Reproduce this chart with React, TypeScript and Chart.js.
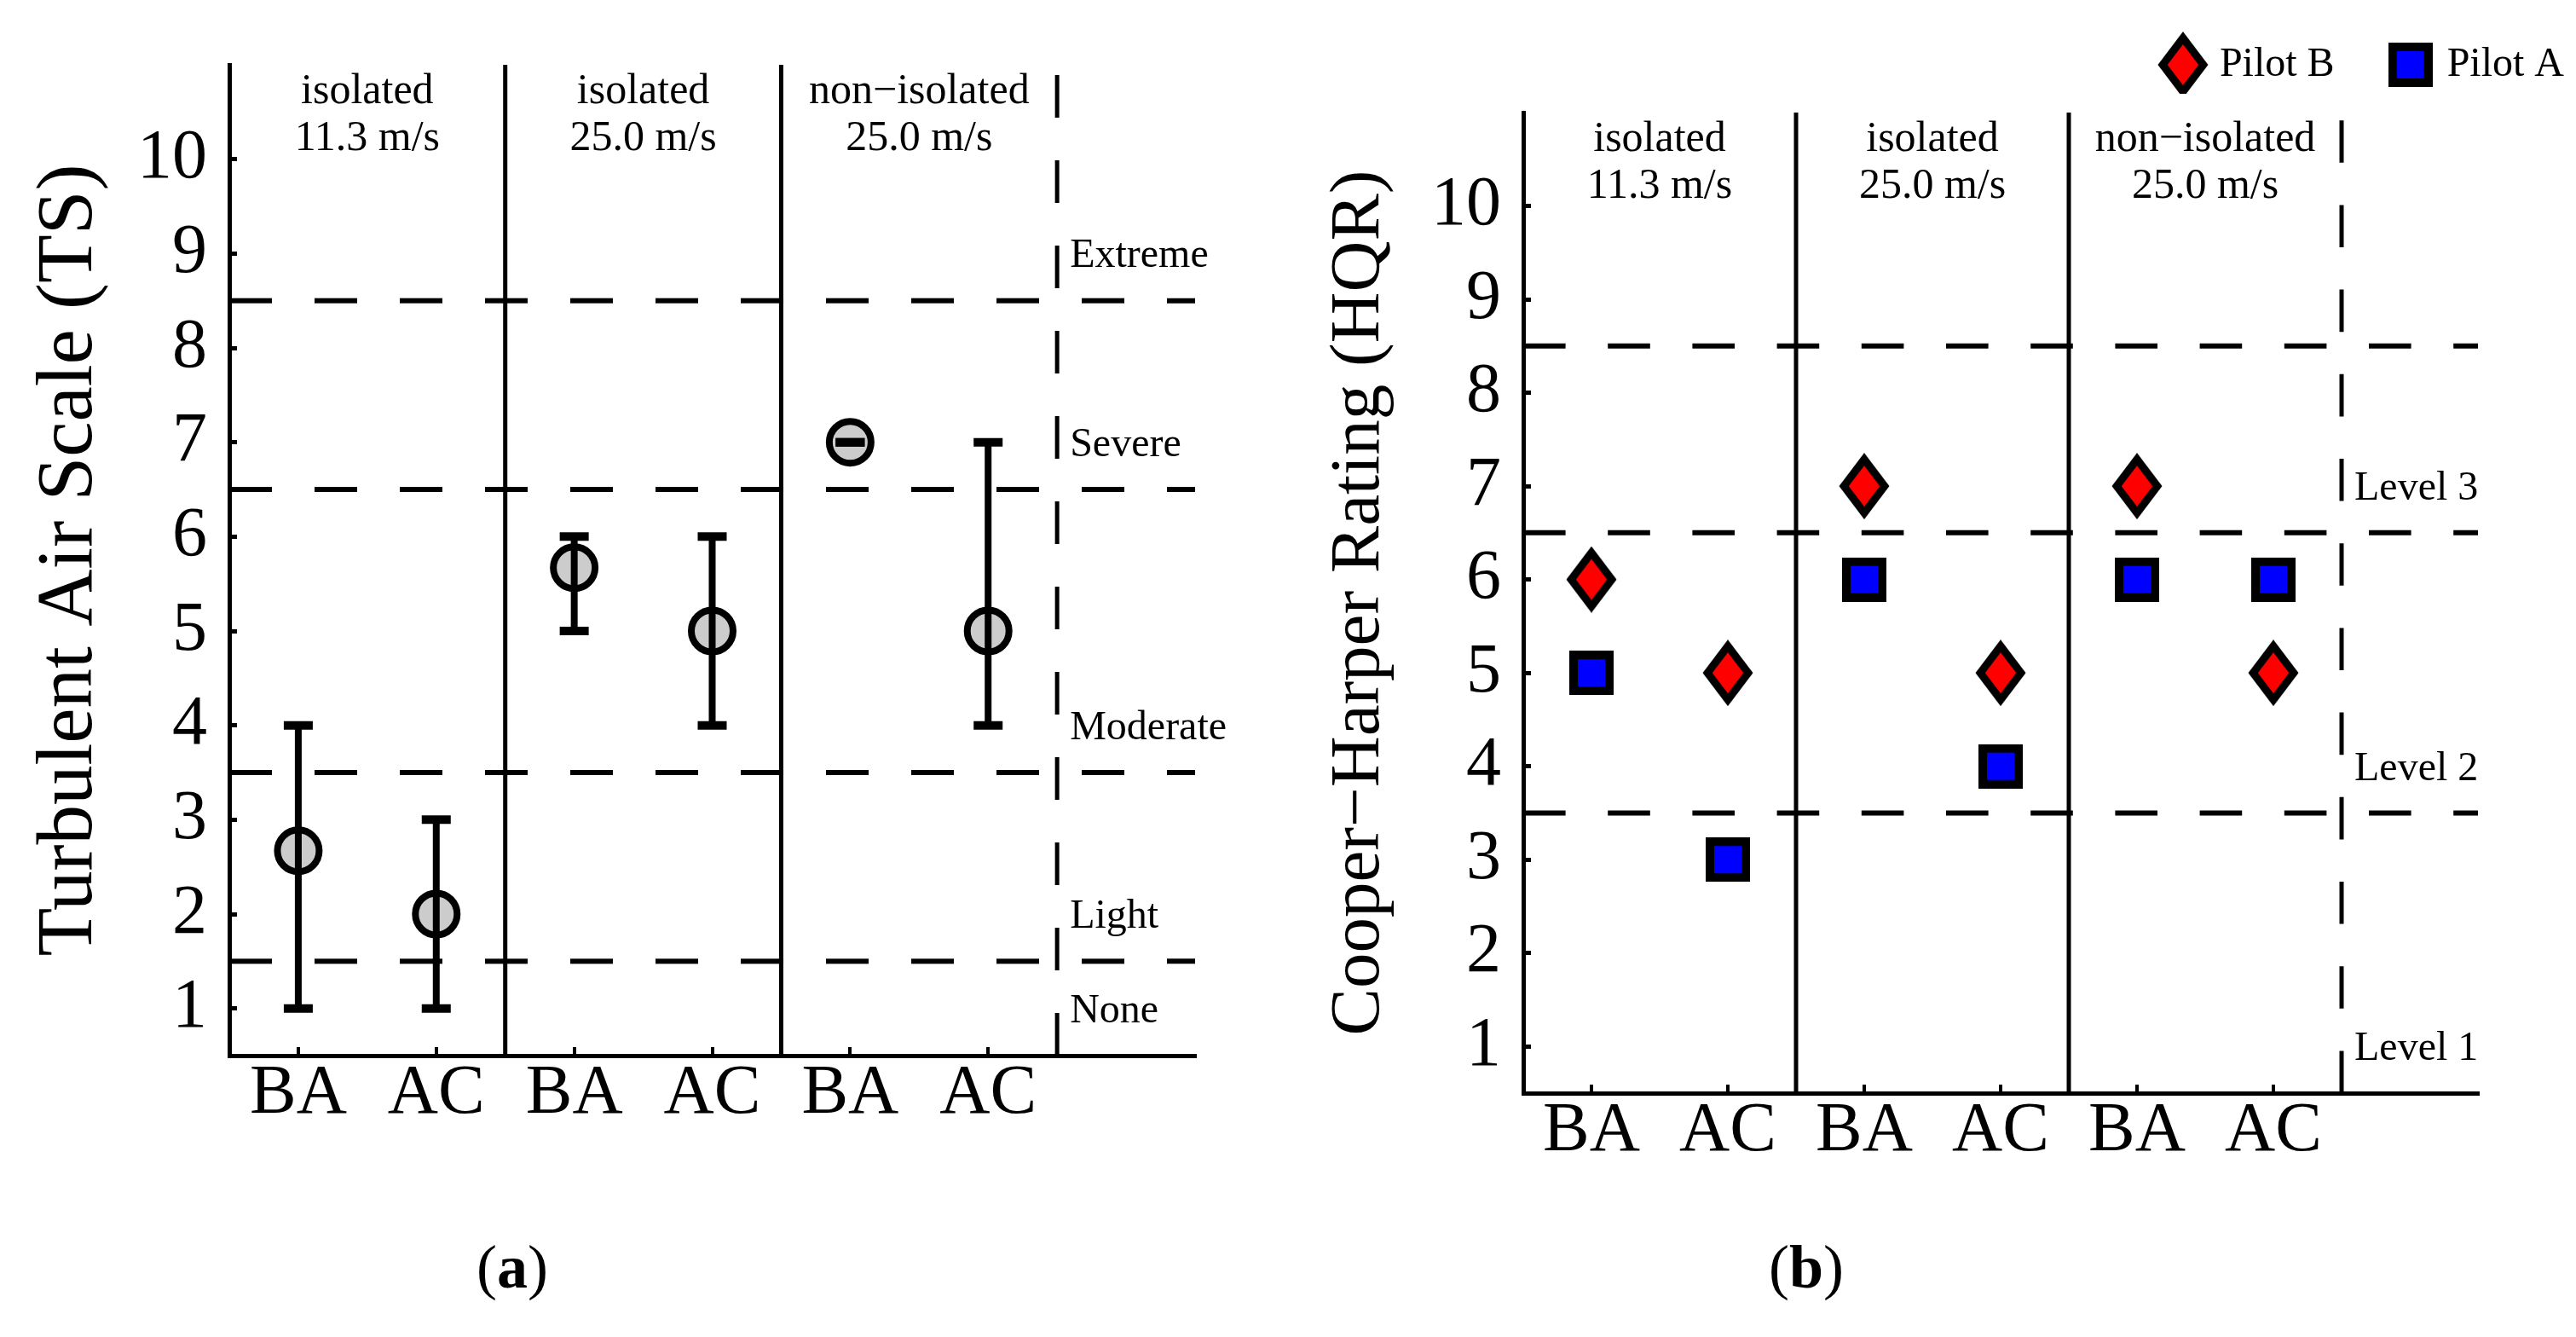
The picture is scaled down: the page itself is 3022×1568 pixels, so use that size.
import React, { useEffect, useRef } from 'react';
import { Chart, registerables } from 'chart.js';

Chart.register(...registerables);

const FONT = "'Liberation Serif', 'Times New Roman', serif";

// ---- shared axis data ----
const xLabels = ['BA', 'AC', 'BA', 'AC', 'BA', 'AC'];
const xPositions = [1, 2, 3, 4, 5, 6];
const xMin = 0.5;
const xMax = 7.5;
const yMin = 0.5;
const yMax = 11;
const yTicks = [1, 2, 3, 4, 5, 6, 7, 8, 9, 10];
const groupTitles = [
  ['isolated', '11.3 m/s'],
  ['isolated', '25.0 m/s'],
  ['non\u2212isolated', '25.0 m/s'],
];
const groupCenters = [1.5, 3.5, 5.5];
const groupSeparators = [2.5, 4.5];
const lastSeparator = 6.5;

// ---- panel (a): Turbulent Air Scale ----
const tsMean = [2.67, 2, 5.67, 5, 7, 5];
const tsLow = [1, 1, 5, 4, 7, 4];
const tsHigh = [4, 3, 6, 6, 7, 7];
const tsLevels = [1.5, 3.5, 6.5, 8.5];
const tsLevelNames = ['None', 'Light', 'Moderate', 'Severe', 'Extreme'];
const tsLevelNameValues = [1, 2, 4, 7, 9];

// ---- panel (b): Cooper-Harper ----
const hqrPilotB = [6, 5, 7, 5, 7, 5];
const hqrPilotA = [5, 3, 6, 4, 6, 6];
const hqrLevels = [3.5, 6.5, 8.5];
const hqrLevelNames = ['Level 1', 'Level 2', 'Level 3'];
const hqrLevelNameValues = [1, 4, 7];

function strokeLine(ctx: CanvasRenderingContext2D, x1: number, y1: number, x2: number, y2: number, w: number, dash: number[]) {
  ctx.save();
  ctx.beginPath();
  ctx.setLineDash(dash);
  ctx.lineWidth = w;
  ctx.strokeStyle = '#000';
  ctx.lineCap = 'butt';
  ctx.moveTo(x1, y1);
  ctx.lineTo(x2, y2);
  ctx.stroke();
  ctx.restore();
}

type OverlayCfg = {
  levels: number[];
  levelNames: string[];
  levelNameValues: number[];
  dash: number[];
  errorBars?: { low: number[]; high: number[] };
};

function overlayPlugin(cfg: OverlayCfg) {
  return {
    id: 'overlay',
    beforeDatasetsDraw(chart: any) {
      const ctx = chart.ctx;
      const xs = chart.scales.x;
      const ys = chart.scales.y;
      const x0 = xs.getPixelForValue(xMin);
      const x1 = xs.getPixelForValue(xMax);
      const yb = ys.getPixelForValue(yMin);
      const yt = ys.getPixelForValue(yMax);
      cfg.levels.forEach((v) => {
        const y = ys.getPixelForValue(v);
        strokeLine(ctx, x0, y, x1, y, 6, cfg.dash);
      });
      groupSeparators.forEach((v) => {
        const x = xs.getPixelForValue(v);
        strokeLine(ctx, x, yb, x, yt, 5, []);
      });
      const xd = xs.getPixelForValue(lastSeparator);
      strokeLine(ctx, xd, yb, xd, yt, 5, cfg.dash);
    },
    afterDatasetsDraw(chart: any) {
      if (!cfg.errorBars) return;
      const ctx = chart.ctx;
      const xs = chart.scales.x;
      const ys = chart.scales.y;
      const { low, high } = cfg.errorBars;
      xPositions.forEach((p, i) => {
        const x = xs.getPixelForValue(p);
        const yl = ys.getPixelForValue(low[i]);
        const yh = ys.getPixelForValue(high[i]);
        if (high[i] > low[i]) strokeLine(ctx, x, yl, x, yh, 8, []);
        strokeLine(ctx, x - 17, yl, x + 17, yl, 10, []);
        strokeLine(ctx, x - 17, yh, x + 17, yh, 10, []);
      });
    },
    afterDraw(chart: any) {
      const ctx = chart.ctx;
      const xs = chart.scales.x;
      const ys = chart.scales.y;
      const top = chart.chartArea.top;
      ctx.save();
      ctx.fillStyle = '#000';
      ctx.textBaseline = 'alphabetic';
      ctx.font = `50px ${FONT}`;
      ctx.textAlign = 'center';
      groupTitles.forEach((lines, i) => {
        const x = xs.getPixelForValue(groupCenters[i]);
        ctx.fillText(lines[0], x, top + 45);
        ctx.fillText(lines[1], x, top + 100);
      });
      ctx.font = `48px ${FONT}`;
      ctx.textAlign = 'left';
      const xl = xs.getPixelForValue(lastSeparator) + 15;
      cfg.levelNames.forEach((name, i) => {
        const y = ys.getPixelForValue(cfg.levelNameValues[i]);
        ctx.fillText(name, xl, y + 16);
      });
      ctx.restore();
    },
  };
}

function makeDiamond(): HTMLCanvasElement {
  const c = document.createElement('canvas');
  c.width = 60;
  c.height = 78;
  const g = c.getContext('2d')!;
  const cx = 30, cy = 39, a = 29.5, b = 39, t = 9;
  g.fillStyle = '#000';
  g.beginPath();
  g.moveTo(cx, cy - b); g.lineTo(cx + a, cy); g.lineTo(cx, cy + b); g.lineTo(cx - a, cy);
  g.closePath();
  g.fill();
  const hyp = Math.hypot(a, b);
  const ai = a - (t * hyp) / b;
  const bi = b - (t * hyp) / a;
  g.fillStyle = '#ff0000';
  g.beginPath();
  g.moveTo(cx, cy - bi); g.lineTo(cx + ai, cy); g.lineTo(cx, cy + bi); g.lineTo(cx - ai, cy);
  g.closePath();
  g.fill();
  return c;
}

function makeSquare(): HTMLCanvasElement {
  const c = document.createElement('canvas');
  c.width = 52;
  c.height = 52;
  const g = c.getContext('2d')!;
  g.fillStyle = '#000';
  g.fillRect(0, 0, 52, 52);
  g.fillStyle = '#0000ff';
  g.fillRect(10, 10, 32, 32);
  return c;
}

function xScale(height: number) {
  return {
    type: 'linear',
    position: 'bottom',
    min: xMin,
    max: xMax,
    afterBuildTicks: (s: any) => { s.ticks = xPositions.map((v) => ({ value: v })); },
    afterFit: (s: any) => { s.height = height; },
    grid: { display: true, drawOnChartArea: false, drawTicks: true, tickLength: -10, lineWidth: 4, tickWidth: 4, color: '#000', tickColor: '#000' },
    border: { display: true, width: 5, color: '#000' },
    ticks: {
      autoSkip: false,
      maxRotation: 0,
      minRotation: 0,
      color: '#000',
      padding: 14,
      font: { family: FONT, size: 82, lineHeight: 1 },
      callback: (v: any) => xLabels[Math.round(Number(v)) - 1] ?? '',
    },
  };
}

function yScale(width: number, title: string, titleSize: number, titlePad: number) {
  return {
    type: 'linear',
    position: 'left',
    min: yMin,
    max: yMax,
    afterBuildTicks: (s: any) => { s.ticks = yTicks.map((v) => ({ value: v })); },
    afterFit: (s: any) => { s.width = width; },
    grid: { display: true, drawOnChartArea: false, drawTicks: true, tickLength: -9, lineWidth: 5, tickWidth: 5, color: '#000', tickColor: '#000' },
    border: { display: true, width: 5, color: '#000' },
    ticks: {
      color: '#000',
      padding: 35,
      font: { family: FONT, size: 82, lineHeight: 0.5 },
    },
    title: {
      display: true,
      text: title,
      color: '#000',
      font: { family: FONT, size: titleSize, lineHeight: 1.2 },
      padding: { top: titlePad, bottom: 0 },
    },
  };
}

export default function App() {
  const refA = useRef<HTMLCanvasElement | null>(null);
  const refB = useRef<HTMLCanvasElement | null>(null);

  useEffect(() => {
    const chartA = new Chart(refA.current!, {
      type: 'scatter',
      data: {
        datasets: [
          {
            label: 'TS',
            data: tsMean.map((v, i) => ({ x: xPositions[i], y: v })),
            showLine: false,
            pointStyle: 'circle',
            pointRadius: 24.5,
            pointBorderWidth: 8,
            pointBackgroundColor: '#cccccc',
            pointBorderColor: '#000000',
          } as any,
        ],
      },
      options: {
        responsive: false,
        animation: false,
        devicePixelRatio: 1,
        events: [],
        layout: { padding: { left: 0, top: 76, right: 98, bottom: 0 } },
        plugins: { legend: { display: false }, tooltip: { enabled: false } },
        scales: {
          x: xScale(330) as any,
          y: yScale(269, 'Turbulent Air Scale (TS)', 93, 27) as any,
        },
      },
      plugins: [overlayPlugin({
        levels: tsLevels,
        levelNames: tsLevelNames,
        levelNameValues: tsLevelNameValues,
        dash: [50, 50],
        errorBars: { low: tsLow, high: tsHigh },
      })],
    });

    const diamond = makeDiamond();
    const square = makeSquare();
    const chartB = new Chart(refB.current!, {
      type: 'scatter',
      data: {
        datasets: [
          {
            label: 'Pilot B',
            data: hqrPilotB.map((v, i) => ({ x: xPositions[i], y: v })),
            showLine: false,
            pointStyle: diamond,
            pointRadius: 30,
          } as any,
          {
            label: 'Pilot A',
            data: hqrPilotA.map((v, i) => ({ x: xPositions[i], y: v })),
            showLine: false,
            pointStyle: square,
            pointRadius: 26,
          } as any,
        ],
      },
      options: {
        responsive: false,
        animation: false,
        devicePixelRatio: 1,
        events: [],
        layout: { padding: 0 },
        plugins: {
          tooltip: { enabled: false },
          legend: {
            display: true,
            position: 'top',
            align: 'end',
            labels: {
              usePointStyle: true,
              pointStyleWidth: 38,
              padding: 70,
              color: '#000',
              font: { family: FONT, size: 48 },
            },
          },
        },
        scales: {
          x: xScale(286) as any,
          y: yScale(287, 'Cooper\u2212Harper Rating (HQR)', 83, 45) as any,
          xTop: {
            type: 'linear', position: 'top', display: true,
            afterFit: (s: any) => { s.height = 22; },
            grid: { display: false }, border: { display: false }, ticks: { display: false },
          } as any,
          yRight: {
            type: 'linear', position: 'right', display: true,
            afterFit: (s: any) => { s.width = 171; },
            grid: { display: false }, border: { display: false }, ticks: { display: false },
          } as any,
        },
      },
      plugins: [overlayPlugin({
        levels: hqrLevels,
        levelNames: hqrLevelNames,
        levelNameValues: hqrLevelNameValues,
        dash: [49.6, 49.6],
      })],
    });

    return () => {
      chartA.destroy();
      chartB.destroy();
    };
  }, []);

  const captionStyle: React.CSSProperties = {
    position: 'absolute',
    top: 1450,
    width: 300,
    textAlign: 'center',
    fontFamily: FONT,
    fontSize: 72,
    lineHeight: 1,
    color: '#000',
  };

  return (
    <div style={{ position: 'fixed', left: 0, top: 0, width: 3022, height: 1568, overflow: 'hidden', background: '#fff' }}>
      <canvas ref={refA} width={1500} height={1568} style={{ position: 'absolute', left: 0, top: 0, width: 1500, height: 1568 }} />
      <canvas ref={refB} width={1578} height={1586} style={{ position: 'absolute', left: 1500, top: -18, width: 1578, height: 1586 }} />
      <div style={{ ...captionStyle, left: 451 }}>(<b>a</b>)</div>
      <div style={{ ...captionStyle, left: 1969 }}>(<b>b</b>)</div>
    </div>
  );
}
